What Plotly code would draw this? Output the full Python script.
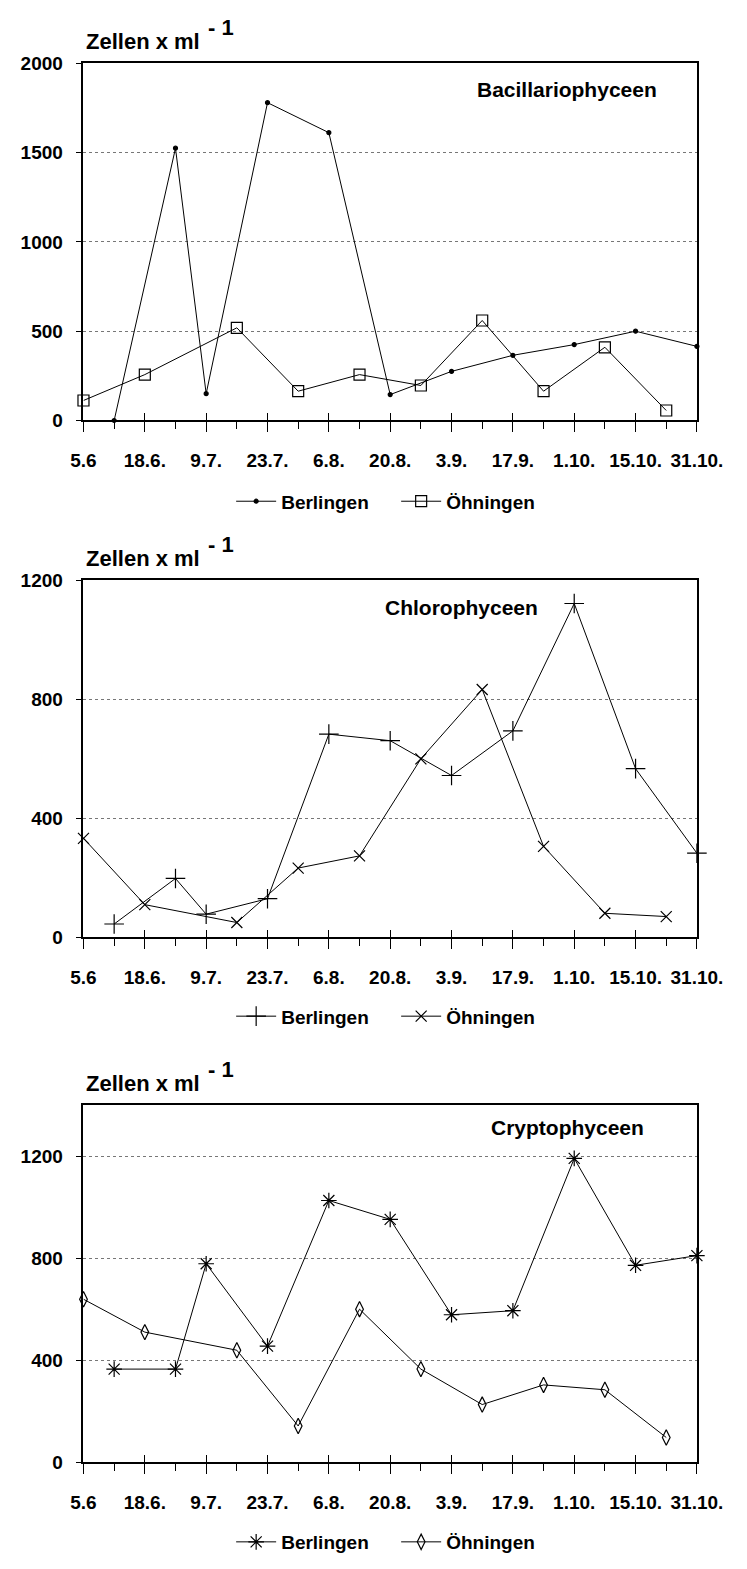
import plotly.graph_objects as go

# ---------------- data ----------------
tick_labels = ["5.6", "18.6.", "9.7.", "23.7.", "6.8.", "20.8.", "3.9.", "17.9.", "1.10.", "15.10.", "31.10."]
n_slots = 21  # sampling slots, every second one labelled

berlingen_pos = [1, 3, 4, 6, 8, 10, 12, 14, 16, 18, 20]
oehningen_pos = [0, 2, 5, 7, 9, 11, 13, 15, 17, 19]

bac_berlingen = [0, 1525, 150, 1780, 1612, 145, 275, 365, 425, 500, 415]
bac_oehningen = [112, 257, 519, 164, 257, 196, 560, 164, 410, 56]

chl_berlingen = [45, 198, 78, 130, 683, 661, 544, 694, 1122, 567, 283]
chl_oehningen = [333, 110, 50, 233, 274, 600, 833, 306, 81, 70]

cry_berlingen = [365, 365, 778, 455, 1026, 952, 578, 594, 1191, 772, 810]
cry_oehningen = [639, 510, 439, 142, 600, 365, 226, 303, 284, 97]

panel_names = ["Bacillariophyceen", "Chlorophyceen", "Cryptophyceen"]
y_max = [2000, 1200, 1400]
y_ticks = [[0, 500, 1000, 1500, 2000], [0, 400, 800, 1200], [0, 400, 800, 1200]]

# ---------------- layout helpers ----------------
PAGE_W, PAGE_H = 747, 1569
OFF = 8  # default page body margin
W, H = PAGE_W - 2 * OFF, PAGE_H - 2 * OFF  # figure fits exactly inside the page
FONT = "Liberation Sans, Arial, sans-serif"


def py(pix):
    return 1 - (pix - OFF) / H


def px(pix):
    return (pix - OFF) / W


panels = [
    dict(top=54, bottom=416, legend_y=498, name_x=585, name_y=80,
         data=(bac_berlingen, bac_oehningen),
         sym=(dict(symbol="circle", size=4), dict(symbol="square-open", size=11))),
    dict(top=578, bottom=940, legend_y=1020, name_x=473, name_y=606,
         data=(chl_berlingen, chl_oehningen),
         sym=(dict(symbol="cross-thin", size=14), dict(symbol="x-thin", size=11))),
    dict(top=1110, bottom=1472, legend_y=1553, name_x=585, name_y=1133,
         data=(cry_berlingen, cry_oehningen),
         sym=(dict(symbol="asterisk", size=13), dict(symbol="diamond-tall-open", size=11))),
]

fig = go.Figure()
annotations = []
x_left, x_right = 74, 722

for i, p in enumerate(panels):
    k = "" if i == 0 else str(i + 1)
    xa, ya = "x" + k, "y" + k
    leg = "legend" + k
    ko = str(i + 4)
    for j, (name, pos, vals) in enumerate([("Berlingen", berlingen_pos, p["data"][0]),
                                            ("Öhningen", oehningen_pos, p["data"][1])]):
        sym = p["sym"][j]
        fig.add_trace(go.Scatter(
            x=pos, y=vals, name=name, mode="lines+markers",
            xaxis=xa, yaxis=ya, legend=leg, cliponaxis=False,
            line=dict(color="black", width=1),
            marker=dict(symbol=sym["symbol"], size=sym["size"], color="black",
                        line=dict(color="black", width=1.2)),
        ))
    # empty trace so the overlay axis (upper half of crossing ticks) is drawn
    fig.add_trace(go.Scatter(x=[], y=[], xaxis="x" + ko, yaxis=ya, showlegend=False,
                             hoverinfo="skip"))
    axis_common = dict(showline=True, linecolor="black", linewidth=1.6, mirror=True,
                       zeroline=False)
    fig.update_layout(**{
        "xaxis" + k: dict(
            domain=[px(x_left), px(x_right)], anchor=ya, range=[0, n_slots - 1],
            tickmode="array", tickvals=list(range(0, n_slots, 2)), ticktext=tick_labels,
            ticks="outside", ticklen=10, tickwidth=1.4, tickcolor="black",
            showgrid=False, ticklabelstandoff=12, ticklabeloverflow="allow",
            minor=dict(tickmode="array", tickvals=list(range(1, n_slots, 2)),
                       ticks="outside", ticklen=7, tickwidth=1.2, tickcolor="black", showgrid=False),
            tickfont=dict(family=FONT, size=19, color="black", weight="bold"),
            **axis_common),
        "xaxis" + ko: dict(
            domain=[px(x_left), px(x_right)], anchor=ya, overlaying=xa, range=[0, n_slots - 1],
            tickmode="array", tickvals=list(range(0, n_slots, 2)), showticklabels=False,
            ticks="inside", ticklen=7, tickwidth=1.4, tickcolor="black",
            showgrid=False, showline=False, zeroline=False),
        "yaxis" + k: dict(
            domain=[py(p["bottom"]), py(p["top"])], anchor=xa, range=[0, y_max[i]],
            tickmode="array", tickvals=y_ticks[i],
            ticks="outside", ticklen=6, tickwidth=1.4, tickcolor="black",
            showgrid=True, gridcolor="#777", griddash="dot", gridwidth=1,
            tickfont=dict(family=FONT, size=19, color="black", weight="bold"),
            ticklabelstandoff=9,
            **axis_common),
        leg: dict(orientation="h", x=px(230), xanchor="left", y=py(p["legend_y"]),
                  yanchor="middle", font=dict(family=FONT, size=19, color="black", weight="bold"),
                  bgcolor="rgba(0,0,0,0)", itemwidth=40, entrywidth=110),
    })
    annotations.append(dict(text="Zellen x ml", xref="paper", yref="paper",
                            x=px(75), y=py(p["top"] - 22), xanchor="left", yanchor="middle",
                            showarrow=False,
                            font=dict(family=FONT, size=22, color="black", weight="bold")))
    annotations.append(dict(text="- 1", xref="paper", yref="paper",
                            x=px(203), y=py(p["top"] - 36), xanchor="left", yanchor="middle",
                            showarrow=False,
                            font=dict(family=FONT, size=22, color="black", weight="bold")))
    annotations.append(dict(text=panel_names[i], xref="paper", yref="paper",
                            x=px(p["name_x"]), y=py(p["name_y"]), xanchor="center", yanchor="middle",
                            showarrow=False,
                            font=dict(family=FONT, size=21, color="black", weight="bold")))

fig.update_layout(
    width=W, height=H, margin=dict(l=0, r=0, t=0, b=0),
    paper_bgcolor="white", plot_bgcolor="white",
    annotations=annotations, showlegend=True,
)

fig.write_html("out.html")
